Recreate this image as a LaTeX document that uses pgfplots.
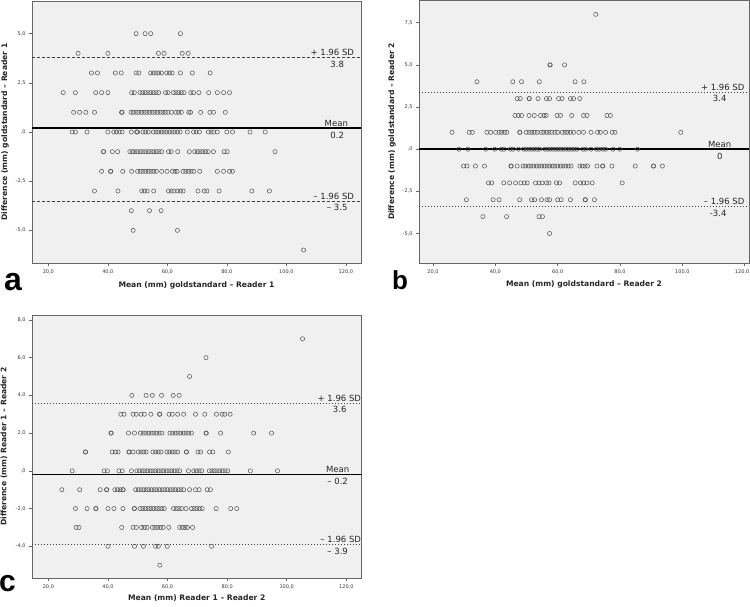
\documentclass[border=0pt]{standalone}
\usepackage{fontspec}
\setmainfont{DejaVu Sans}
\newfontfamily\letterfont{Liberation Sans}
\usepackage{pgfplots}
\pgfplotsset{compat=1.18}
\definecolor{bggray}{HTML}{F0F0F0}
\definecolor{framegray}{HTML}{666666}
\definecolor{markgray}{HTML}{505050}
\pgfplotsset{
 bastyle/.style={
  scale only axis,
  axis background/.style={fill=bggray},
  axis line style={framegray, line width=0.8pt},
  tick align=outside,
  tick pos=left,
  major tick length=3pt,
  tick style={framegray, line width=0.6pt},
  ticklabel style={font=\fontsize{5}{6}\selectfont, text=black!80},
  label style={font=\fontsize{7.6}{9}\selectfont\bfseries, text=black!85},
  xtick={20,40,60,80,100,120},
  xticklabels={{20,0},{40,0},{60,0},{80,0},{100,0},{120,0}},
  xmin=14.5, xmax=125.1,
 },
 pts/.style={only marks, mark=o, mark size=2.1pt, mark options={markgray, line width=0.5pt}},
 meanline/.style={black, line width=1.6pt, no marks},
 dashline/.style={black!75, line width=0.6pt, dash pattern=on 3pt off 2pt, no marks},
 dotline/.style={black!75, line width=0.6pt, dash pattern=on 1pt off 2pt, no marks},
}
\tikzset{
 anntop/.style={anchor=south east, inner sep=0pt, yshift=1.5pt, font=\fontsize{8.5}{10}\selectfont, text=black!85},
 annbot/.style={anchor=north, inner sep=0pt, yshift=-3.5pt, font=\fontsize{8.5}{10}\selectfont, text=black!85},
 anntopc/.style={anchor=south, inner sep=0pt, yshift=1.5pt, font=\fontsize{8.5}{10}\selectfont, text=black!85},
}
\begin{document}
\begin{tikzpicture}
\useasboundingbox (0,0) rectangle (750pt,607pt);
% ---------------- panel a
\begin{axis}[bastyle, at={(32pt,344pt)}, anchor=south west, width=329pt, height=262pt,
  ymin=-6.66, ymax=6.66,
  ytick={-5,-2.5,0,2.5,5}, yticklabels={{-5,0},{-2,5},{,0},{2,5},{5,0}},
  xlabel={Mean (mm) goldstandard – Reader 1},
  ylabel={Difference (mm) goldstandard – Reader 1},
  xlabel style={at={(axis description cs:0.5,-0.084)}, anchor=center},
  ylabel style={at={(axis description cs:-0.082,0.5)}, anchor=center}]
\addplot[dashline] coordinates {(14.5,3.8) (125.1,3.8)};
\addplot[dashline] coordinates {(14.5,-3.5) (125.1,-3.5)};
\addplot[meanline] coordinates {(14.5,0.2) (125.1,0.2)};
\addplot[pts] coordinates {
(49.5,5) (52.5,5) (54.4,5) (64.4,5)
(30.0,4) (40.0,4) (57.0,4) (58.9,4) (65.0,4) (67.0,4)
(34.5,3) (36.5,3) (42.5,3) (44.5,3) (49.5,3) (50.4,3) (54.4,3) (55.3,3) (56.2,3) (57.1,3) (58.0,3) (59.8,3) (60.7,3) (61.6,3) (64.4,3) (68.4,3) (74.4,3)
(25.0,2) (29.1,2) (35.9,2) (37.9,2) (40.0,2) (48.0,2) (48.9,2) (50.8,2) (51.7,2) (52.6,2) (53.5,2) (54.4,2) (55.3,2) (56.2,2) (57.1,2) (59.4,2) (60.2,2) (62.0,2) (62.9,2) (63.8,2) (64.7,2) (65.6,2) (67.9,2) (68.8,2) (70.6,2) (73.9,2) (76.8,2) (78.9,2) (80.9,2)
(28.5,1) (30.5,1) (32.6,1) (35.5,1) (44.6,1) (44.8,1) (47.8,1) (48.6,1) (49.5,1) (50.4,1) (51.3,1) (52.2,1) (53.1,1) (54.0,1) (54.9,1) (55.8,1) (56.7,1) (57.6,1) (58.5,1) (59.3,1) (60.2,1) (61.4,1) (62.9,1) (63.8,1) (64.7,1) (67.2,1) (67.8,1) (71.2,1) (74.3,1) (75.5,1) (79.5,1)
(28.0,0) (29.1,0) (33.0,0) (40.0,0) (42.0,0) (42.9,0) (43.8,0) (44.8,0) (47.9,0) (49.7,0) (50.0,0) (51.8,0) (52.7,0) (53.6,0) (55.3,0) (56.2,0) (57.1,0) (58.0,0) (58.9,0) (59.8,0) (60.7,0) (61.6,0) (62.5,0) (63.4,0) (64.3,0) (66.7,0) (68.8,0) (69.7,0) (70.8,0) (73.8,0) (74.7,0) (75.6,0) (76.8,0) (80.0,0) (81.9,0) (87.8,0) (92.9,0)
(38.5,-1) (38.6,-1) (41.5,-1) (43.3,-1) (47.4,-1) (48.3,-1) (49.1,-1) (50.0,-1) (50.9,-1) (51.8,-1) (52.7,-1) (53.6,-1) (54.5,-1) (55.4,-1) (56.3,-1) (57.2,-1) (58.1,-1) (60.4,-1) (61.3,-1) (63.5,-1) (67.4,-1) (69.2,-1) (70.1,-1) (71.0,-1) (71.9,-1) (72.8,-1) (73.7,-1) (75.5,-1) (79.1,-1) (80.1,-1) (96.2,-1)
(37.9,-2) (40.9,-2) (41.0,-2) (45.0,-2) (48.0,-2) (50.0,-2) (50.9,-2) (51.8,-2) (52.7,-2) (53.6,-2) (54.5,-2) (55.4,-2) (56.3,-2) (58.1,-2) (59.9,-2) (61.7,-2) (62.6,-2) (63.3,-2) (65.3,-2) (66.2,-2) (67.1,-2) (68.0,-2) (68.9,-2) (70.9,-2) (76.8,-2) (78.9,-2) (80.9,-2) (81.9,-2)
(35.5,-3) (43.4,-3) (51.4,-3) (52.3,-3) (53.2,-3) (55.4,-3) (60.4,-3) (61.3,-3) (62.2,-3) (63.5,-3) (64.4,-3) (65.3,-3) (70.3,-3) (72.4,-3) (73.3,-3) (77.4,-3) (88.4,-3) (94.3,-3)
(47.9,-4) (54.0,-4) (57.9,-4)
(48.5,-5) (63.4,-5)
(105.8,-6)
};
\node[anntop] at (axis cs:122.8,3.8) {+ 1.96 SD};
\node[annbot] at (axis cs:117.1,3.8) {3.8};
\node[anntopc] at (axis cs:116.8,0.2) {Mean};
\node[annbot] at (axis cs:117.1,0.2) {0.2};
\node[anntop] at (axis cs:122.8,-3.5) {– 1.96 SD};
\node[annbot] at (axis cs:117.1,-3.5) {– 3.5};
\end{axis}
% ---------------- panel b
\begin{axis}[bastyle, at={(419pt,344pt)}, anchor=south west, width=330pt, height=263pt,
  xmin=15.5, xmax=121.4,
  xticklabels={{20,0},{40,0},{60,0},{80,0},{100,0},{\hspace{-5pt}120,0}},
  ymin=-6.75, ymax=8.85,
  ytick={-5,-2.5,0,2.5,5,7.5}, yticklabels={{-5,0},{-2,5},{,0},{2,5},{5,0},{7,5}},
  xlabel={Mean (mm) goldstandard – Reader 2},
  ylabel={Difference (mm) goldstandard – Reader 2},
  xlabel style={at={(axis description cs:0.5,-0.083)}, anchor=center},
  ylabel style={at={(axis description cs:-0.082,0.5)}, anchor=center}]
\addplot[dotline] coordinates {(15.5,3.4) (121.4,3.4)};
\addplot[dotline] coordinates {(15.5,-3.4) (121.4,-3.4)};
\addplot[meanline] coordinates {(15.5,0) (121.4,0)};
\addplot[pts] coordinates {
(72.2,8)
(57.5,5) (57.6,5) (62.2,5)
(34.1,4) (45.6,4) (48.4,4) (54.1,4) (65.6,4) (68.4,4)
(47.0,3) (48.0,3) (50.8,3) (50.9,3) (53.7,3) (56.4,3) (57.4,3) (60.3,3) (61.4,3) (64.1,3) (65.1,3) (67.1,3)
(46.3,2) (47.4,2) (48.4,2) (50.8,2) (52.5,2) (54.5,2) (55.6,2) (56.3,2) (59.8,2) (60.9,2) (64.5,2) (68.3,2) (69.4,2) (75.8,2) (76.9,2)
(26.1,1) (31.6,1) (32.6,1) (37.3,1) (38.5,1) (40.1,1) (41.2,1) (42.0,1) (42.9,1) (43.7,1) (47.8,1) (47.9,1) (49.9,1) (50.8,1) (51.7,1) (52.5,1) (53.4,1) (54.7,1) (55.5,1) (56.4,1) (57.2,1) (58.1,1) (59.1,1) (60.0,1) (61.5,1) (62.4,1) (63.2,1) (64.1,1) (65.1,1) (66.8,1) (68.3,1) (70.7,1) (72.8,1) (73.7,1) (75.4,1) (77.5,1) (78.4,1) (99.5,1)
(28.3,0) (31.2,0) (36.9,0) (39.8,0) (41.9,0) (42.8,0) (44.8,0) (45.7,0) (47.4,0) (49.1,0) (49.9,0) (50.8,0) (51.7,0) (52.5,0) (53.4,0) (54.2,0) (55.9,0) (56.8,0) (57.6,0) (58.5,0) (59.4,0) (60.2,0) (61.1,0) (61.9,0) (62.8,0) (63.6,0) (64.5,0) (65.3,0) (66.2,0) (68.1,0) (69.0,0) (70.7,0) (72.4,0) (73.3,0) (74.5,0) (75.4,0) (77.8,0) (79.9,0) (85.6,0)
(29.8,-1) (30.9,-1) (33.6,-1) (36.5,-1) (45.0,-1) (45.1,-1) (47.0,-1) (48.9,-1) (49.7,-1) (50.6,-1) (51.4,-1) (52.3,-1) (53.2,-1) (54.0,-1) (54.9,-1) (55.7,-1) (56.6,-1) (57.4,-1) (58.3,-1) (59.1,-1) (60.0,-1) (60.9,-1) (61.7,-1) (62.6,-1) (63.4,-1) (64.3,-1) (67.1,-1) (67.9,-1) (68.8,-1) (69.6,-1) (72.6,-1) (74.4,-1) (74.5,-1) (77.4,-1) (84.9,-1) (90.7,-1) (90.8,-1) (93.6,-1)
(37.8,-2) (38.8,-2) (42.7,-2) (44.6,-2) (46.5,-2) (48.2,-2) (49.3,-2) (50.2,-2) (52.9,-2) (54.0,-2) (55.0,-2) (56.4,-2) (57.2,-2) (59.6,-2) (60.6,-2) (65.6,-2) (67.3,-2) (68.3,-2) (69.4,-2) (71.1,-2) (80.7,-2)
(30.7,-3) (39.3,-3) (41.2,-3) (47.8,-3) (51.6,-3) (52.6,-3) (54.8,-3) (56.6,-3) (57.4,-3) (60.0,-3) (61.1,-3) (64.1,-3) (68.8,-3) (68.9,-3) (71.8,-3)
(36.0,-4) (43.6,-4) (54.0,-4) (55.1,-4)
(57.4,-5)
};
\node[anntop] at (axis cs:120.0,3.4) {+ 1.96 SD};
\node[annbot] at (axis cs:112.0,3.4) {3.4};
\node[anntopc] at (axis cs:112.0,0) {Mean};
\node[annbot] at (axis cs:112.0,0) {0};
\node[anntop] at (axis cs:120.0,-3.4) {– 1.96 SD};
\node[annbot] at (axis cs:111.5,-3.4) {-3.4};
\end{axis}
% ---------------- panel c
\begin{axis}[bastyle, at={(32pt,29pt)}, anchor=south west, width=329.5pt, height=263pt,
  ymin=-5.68, ymax=8.26,
  ytick={-4,-2,0,2,4,6,8}, yticklabels={{-4,0},{-2,0},{,0},{2,0},{4,0},{6,0},{8,0}},
  xlabel={Mean (mm) Reader 1 – Reader 2},
  ylabel={Difference (mm) Reader 1 – Reader 2},
  xlabel style={at={(axis description cs:0.5,-0.076)}, anchor=center},
  ylabel style={at={(axis description cs:-0.085,0.5)}, anchor=center}]
\addplot[dotline] coordinates {(14.5,3.6) (125.1,3.6)};
\addplot[dotline] coordinates {(14.5,-3.9) (125.1,-3.9)};
\addplot[meanline] coordinates {(14.5,-0.2) (125.1,-0.2)};
\addplot[pts] coordinates {
(105.3,7)
(72.9,6)
(67.4,5)
(48.0,4) (52.8,4) (54.9,4) (58.0,4) (61.9,4) (63.9,4)
(44.3,3) (45.4,3) (48.4,3) (49.5,3) (51.1,3) (52.2,3) (54.4,3) (57.3,3) (57.4,3) (60.5,3) (61.6,3) (63.4,3) (65.4,3) (69.4,3) (72.5,3) (76.4,3) (78.3,3) (79.2,3) (81.0,3)
(41.0,2) (41.1,2) (46.9,2) (48.9,2) (50.9,2) (51.8,2) (52.7,2) (53.6,2) (54.5,2) (55.4,2) (56.3,2) (57.2,2) (58.1,2) (60.8,2) (61.7,2) (62.6,2) (63.5,2) (64.4,2) (65.3,2) (66.2,2) (67.1,2) (68.0,2) (72.9,2) (73.0,2) (77.8,2) (88.9,2) (94.9,2)
(32.4,1) (32.5,1) (41.4,1) (42.5,1) (43.4,1) (47.0,1) (47.1,1) (48.4,1) (50.2,1) (51.1,1) (52.0,1) (52.8,1) (55.1,1) (56.0,1) (56.9,1) (57.8,1) (59.8,1) (60.7,1) (61.6,1) (62.5,1) (63.4,1) (66.3,1) (66.4,1) (70.2,1) (71.1,1) (74.1,1) (75.2,1) (80.4,1)
(28.0,0) (38.7,0) (39.8,0) (43.7,0) (44.8,0) (47.9,0) (49.7,0) (50.6,0) (51.5,0) (52.4,0) (53.3,0) (54.2,0) (55.1,0) (56.0,0) (56.9,0) (57.8,0) (58.7,0) (59.6,0) (60.5,0) (61.4,0) (62.3,0) (63.2,0) (64.1,0) (67.0,0) (68.8,0) (69.7,0) (70.6,0) (71.5,0) (74.0,0) (74.9,0) (75.7,0) (76.6,0) (77.5,0) (78.4,0) (79.3,0) (80.2,0) (87.8,0) (96.9,0)
(24.5,-1) (30.5,-1) (37.4,-1) (39.5,-1) (39.6,-1) (42.3,-1) (43.2,-1) (44.1,-1) (45.0,-1) (45.1,-1) (49.3,-1) (50.2,-1) (51.1,-1) (52.0,-1) (52.8,-1) (53.7,-1) (54.6,-1) (55.5,-1) (56.4,-1) (57.3,-1) (58.2,-1) (59.1,-1) (60.0,-1) (60.9,-1) (61.8,-1) (62.7,-1) (63.6,-1) (64.5,-1) (65.4,-1) (67.4,-1) (69.4,-1) (70.6,-1) (73.3,-1) (74.4,-1)
(29.1,-2) (33.0,-2) (35.9,-2) (36.0,-2) (40.0,-2) (42.0,-2) (45.0,-2) (48.8,-2) (48.9,-2) (50.8,-2) (51.7,-2) (52.6,-2) (53.5,-2) (54.4,-2) (55.3,-2) (56.2,-2) (57.1,-2) (58.0,-2) (58.9,-2) (62.0,-2) (62.9,-2) (63.8,-2) (64.7,-2) (66.2,-2) (68.0,-2) (68.9,-2) (69.8,-2) (70.7,-2) (71.6,-2) (76.3,-2) (81.2,-2) (83.2,-2)
(29.3,-3) (30.3,-3) (44.6,-3) (48.4,-3) (49.5,-3) (51.3,-3) (52.2,-3) (53.1,-3) (54.9,-3) (55.8,-3) (56.7,-3) (57.6,-3) (58.5,-3) (60.4,-3) (64.1,-3) (65.0,-3) (65.9,-3) (66.7,-3) (68.4,-3)
(40.0,-4) (48.9,-4) (51.9,-4) (56.0,-4) (56.9,-4) (59.9,-4) (74.8,-4)
(57.4,-5)
};
\node[anntop] at (axis cs:125.0,3.6) {+ 1.96 SD};
\node[annbot] at (axis cs:117.8,3.6) {3.6};
\node[anntopc] at (axis cs:117.1,-0.2) {Mean};
\node[annbot] at (axis cs:117.1,-0.2) {– 0.2};
\node[anntop] at (axis cs:125.0,-3.9) {– 1.96 SD};
\node[annbot] at (axis cs:117.1,-3.9) {– 3.9};
\end{axis}
% ---------------- panel letters
\node[anchor=base west, inner sep=0pt, font=\fontsize{32}{32}\selectfont\letterfont\bfseries] at (4pt,316pt) {a};
\node[anchor=base west, inner sep=0pt, font=\fontsize{26}{26}\selectfont\letterfont\bfseries] at (392pt,317pt) {b};
\node[anchor=base west, inner sep=0pt, font=\fontsize{30}{30}\selectfont\letterfont\bfseries] at (-1pt,15pt) {c};
\end{tikzpicture}
\end{document}
